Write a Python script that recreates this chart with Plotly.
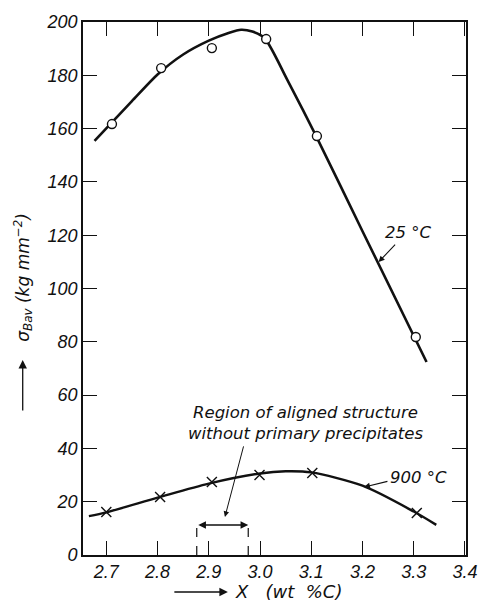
import plotly.graph_objects as go

# ---- data ----
x_25_points = [2.711, 2.807, 2.906, 3.012, 3.111, 3.304]
y_25_points = [161.7, 182.7, 190.2, 193.6, 157.2, 81.8]

x_25_curve = [2.677, 2.75, 2.8, 2.85, 2.9, 2.94, 2.963, 2.985, 3.009, 3.0535, 3.11, 3.2, 3.325]
y_25_curve = [155.4, 170.3, 180.3, 187.8, 193.0, 196.0, 197.1, 196.4, 193.9, 178.2, 157.0, 121.5, 72.4]

x_900_points = [2.70, 2.805, 2.906, 2.999, 3.102, 3.306]
y_900_points = [16.1, 21.8, 27.4, 30.0, 30.8, 15.8]

x_900_curve = [2.666, 2.7, 2.8, 2.9, 3.0, 3.05, 3.1, 3.2, 3.3, 3.344]
y_900_curve = [14.6, 16.0, 21.5, 26.8, 30.6, 31.4, 31.0, 26.0, 16.3, 11.3]

region_bounds = [2.8765, 2.977]

x_ticks = [2.7, 2.8, 2.9, 3.0, 3.1, 3.2, 3.3, 3.4]
y_ticks = [0, 20, 40, 60, 80, 100, 120, 140, 160, 180, 200]

FONT = "Liberation Sans"
ANN_FONT = "DejaVu Sans"
BLACK = "#111111"

fig = go.Figure()

fig.add_trace(go.Scatter(x=x_25_curve, y=y_25_curve, mode="lines",
                         line=dict(color=BLACK, width=2.6, shape="spline", smoothing=0.7),
                         hoverinfo="skip"))
fig.add_trace(go.Scatter(x=x_25_points, y=y_25_points, mode="markers",
                         marker=dict(symbol="circle", size=9, color="white",
                                     line=dict(color=BLACK, width=1.4))))
fig.add_trace(go.Scatter(x=x_900_curve, y=y_900_curve, mode="lines",
                         line=dict(color=BLACK, width=2.4, shape="spline", smoothing=0.8),
                         hoverinfo="skip"))
fig.add_trace(go.Scatter(x=x_900_points, y=y_900_points, mode="markers",
                         marker=dict(symbol="x-thin", size=10, color=BLACK,
                                     line=dict(color=BLACK, width=1.4))))

# dashed region boundaries
for xb in region_bounds:
    fig.add_shape(type="line", x0=xb, x1=xb, y0=0, y1=12.8, xref="x", yref="y",
                  line=dict(color=BLACK, width=1.2, dash="dash"))

tickfont = dict(family=FONT, size=18, color=BLACK, style="italic")
axis_common = dict(showline=True, linecolor=BLACK, linewidth=1.6, mirror="ticks",
                   ticks="inside", ticklen=14, tickwidth=1.3, tickcolor=BLACK,
                   showgrid=False, zeroline=False, tickfont=tickfont)

fig.update_xaxes(range=[2.6545, 3.402], tickvals=x_ticks,
                 ticktext=[f"{v:.1f}" for v in x_ticks], **axis_common)
fig.update_yaxes(range=[0, 200], tickvals=y_ticks,
                 ticktext=[str(v) for v in y_ticks], **axis_common)

ann_font = dict(family=ANN_FONT, size=16.5, color=BLACK, style="italic")

annotations = [
    # 25 C label and arrow
    dict(x=3.288, y=121.2, text="25 °C", showarrow=False, font=ann_font),
    dict(x=3.2313, y=109.9, text="", showarrow=True, ax=18, ay=-19,
         arrowhead=2, arrowsize=1.1, arrowwidth=1.1, arrowcolor=BLACK),
    # 900 C label and arrow
    dict(x=3.309, y=28.9, text="900 °C", showarrow=False, font=ann_font),
    dict(x=3.2028, y=25.5, text="", showarrow=True, ax=25, ay=-6,
         arrowhead=2, arrowsize=1.1, arrowwidth=1.1, arrowcolor=BLACK),
    # region text and arrow
    dict(x=3.089, y=49.7, text="Region of aligned structure<br>without primary precipitates",
         showarrow=False, font=ann_font, align="center"),
    dict(x=2.9315, y=14.3, text="", showarrow=True, ax=19, ay=-72,
         arrowhead=2, arrowsize=1.1, arrowwidth=1.0, arrowcolor=BLACK),
    # double-headed arrow
    dict(x=region_bounds[1], y=11.26, ax=region_bounds[0], ay=11.26,
         axref="x", ayref="y", text="", showarrow=True, arrowside="end+start",
         arrowhead=2, arrowsize=1.1, arrowwidth=1.4, arrowcolor=BLACK),
    # y-axis title (paper coordinates)
    dict(xref="paper", yref="paper", x=-0.1548, y=0.5216, xanchor="center", yanchor="middle",
         text="σ<sub>Bav</sub> (kg mm<sup>−2</sup>)", textangle=-90,
         showarrow=False, font=dict(family=ANN_FONT, size=17, color=BLACK, style="italic")),
    dict(xref="paper", yref="paper", x=-0.1574, y=0.3659, text="", showarrow=True,
         ax=0, ay=52, arrowhead=2, arrowsize=1.3, arrowwidth=1.3, arrowcolor=BLACK),
    # x-axis title (paper coordinates)
    dict(xref="paper", yref="paper", x=0.3909, y=-0.0694, text="X   (wt  %C)",
         xanchor="left", yanchor="middle", showarrow=False,
         font=dict(family=ANN_FONT, size=18, color=BLACK, style="italic")),
    dict(xref="paper", yref="paper", x=0.3782, y=-0.0694, text="", showarrow=True,
         ax=-55, ay=0, arrowhead=2, arrowsize=1.3, arrowwidth=1.3, arrowcolor=BLACK),
]
for a in annotations:
    a.setdefault("xref", "x")
    a.setdefault("yref", "y")
    fig.add_annotation(**a)

fig.update_layout(width=487, height=603, showlegend=False,
                  margin=dict(l=83, r=10, t=22, b=48),
                  paper_bgcolor="white", plot_bgcolor="white")

fig.write_html("out.html")
